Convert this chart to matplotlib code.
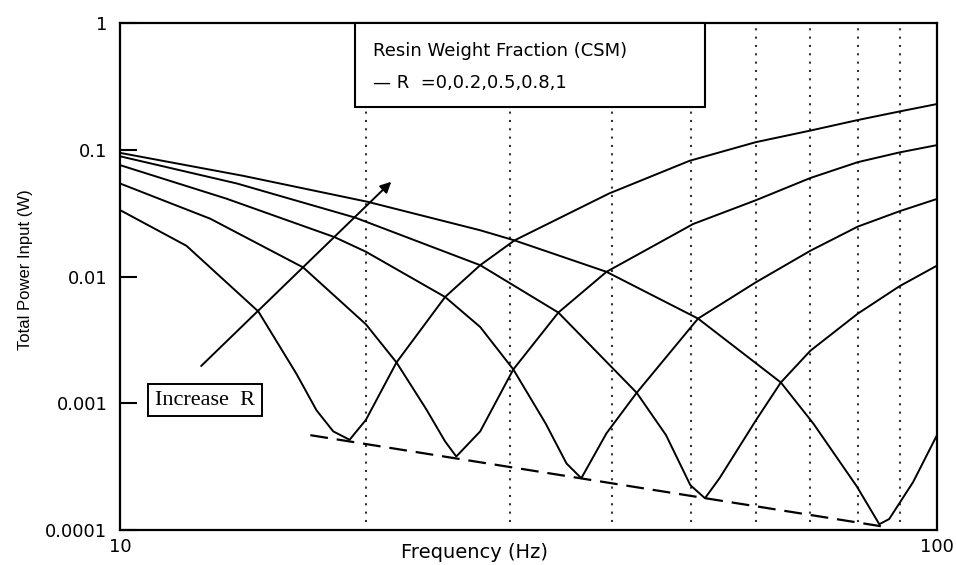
import numpy as np
import matplotlib.pyplot as plt
from matplotlib.patches import Rectangle

# values (Hz, W)
freq_r0 = [10, 12.06, 14.77, 16.45, 17.4, 18.24, 19.1, 20, 21.8, 25.0, 27.6, 30.4, 39.7, 49.8,
           60, 70, 80, 90, 100]
power_r0 = [0.0335, 0.0175, 0.0053, 0.0017, 0.00088, 0.0006, 0.000515, 0.00074, 0.0021, 0.0069,
            0.0123, 0.0193, 0.0453, 0.082, 0.115, 0.142, 0.172, 0.201, 0.23]

freq_r02 = [10, 12.9, 16.76, 20, 21.8, 23.7, 25.0, 25.8, 27.6, 30.3, 34.4, 39.4, 50.3, 60, 70,
            80, 90, 100]
power_r02 = [0.0543, 0.0286, 0.0118, 0.0042, 0.0021, 0.0009, 0.0005, 0.00038, 0.0006, 0.00185,
             0.0052, 0.0109, 0.026, 0.040, 0.060, 0.080, 0.0955, 0.109]

freq_r05 = [10, 13.5, 18.3, 20, 25.0, 27.6, 30.3, 33.2, 35.2, 36.7, 39.4, 42.9, 51, 60, 70, 80,
            90, 100]
power_r05 = [0.0758, 0.0412, 0.0205, 0.0157, 0.0069, 0.004, 0.00185, 0.00069, 0.000335,
             0.000256, 0.00058, 0.00121, 0.00466, 0.009, 0.016, 0.0248, 0.0328, 0.041]

freq_r08 = [10, 13.9, 19.4, 27.6, 34.4, 42.9, 46.6, 49.9, 52, 54.2, 60, 64.4, 70, 80, 90, 100]
power_r08 = [0.089, 0.0543, 0.0292, 0.0123, 0.0052, 0.00121, 0.00056, 0.000226, 0.000178,
             0.000257, 0.00073, 0.00146, 0.0026, 0.0051, 0.0084, 0.0122]

freq_r1 = [10, 14.15, 20.1, 27.6, 30.4, 39.4, 51, 64.4, 70.6, 79.8, 85, 87.4, 93.5, 100]
power_r1 = [0.0947, 0.0624, 0.0389, 0.0232, 0.0193, 0.0109, 0.00466, 0.00146, 0.00069, 0.00022,
            0.000111, 0.000122, 0.000239, 0.00056]

min_freq = [17.1, 87.0]
min_power = [5.6e-4, 1.05e-4]

grid_freqs = [20, 30, 40, 50, 60, 70, 80, 90]
ytick_vals = [0.0001, 0.001, 0.01, 0.1, 1]
ytick_text = ['0.0001', '0.001', '0.01', '0.1', '1']

#%%
fig = plt.figure(figsize=(9.56, 5.65), dpi=100)
ax = fig.add_axes([0.1255, 0.062, 0.8546, 0.897])
ax.set_xscale('log')
ax.set_yscale('log')
ax.set_xlim(10, 100)
ax.set_ylim(1e-4, 1)

for f in grid_freqs:
    ax.axvline(f, ymin=0.015, ymax=1, color='#333333', lw=1.5, ls=(0, (1, 3)), zorder=1)

for fr, pw in [(freq_r0, power_r0), (freq_r02, power_r02), (freq_r05, power_r05),
               (freq_r08, power_r08), (freq_r1, power_r1)]:
    ax.plot(fr, pw, color='black', lw=1.4, zorder=2)

ax.plot(min_freq, min_power, color='black', lw=1.6, ls=(0, (8, 4)), zorder=2)

# ticks
ax.set_xticks([10, 100])
ax.set_xticklabels(['10', '100'])
ax.xaxis.set_minor_locator(plt.NullLocator())
ax.yaxis.set_minor_locator(plt.NullLocator())
ax.set_yticks(ytick_vals)
ax.set_yticklabels(ytick_text)
ax.tick_params(axis='x', length=0, pad=6, labelsize=13)
ax.tick_params(axis='y', direction='in', length=12, width=1.5, pad=9, labelsize=13)
for s in ax.spines.values():
    s.set_linewidth(1.6)

ax.text(0.4345, -0.045, 'Frequency (Hz)', transform=ax.transAxes, ha='center', va='center',
        fontsize=14)
ax.text(-0.116, 0.513, 'Total Power Input (W)', transform=ax.transAxes, ha='center', va='center',
        rotation=90, fontsize=12, family='Liberation Sans')

# legend box
ax.add_patch(Rectangle((0.288, 0.834), 0.428, 0.166, transform=ax.transAxes, fc='white',
                       ec='black', lw=1.5, zorder=4, clip_on=False))
ax.text(0.31, 0.945, 'Resin Weight Fraction (CSM)', transform=ax.transAxes, va='center',
        fontsize=13, zorder=5)
ax.text(0.31, 0.882, '\u2014 R  =0,0.2,0.5,0.8,1', transform=ax.transAxes, va='center',
        fontsize=13, zorder=5)

ax.text(0.104, 0.256, 'Increase  R', transform=ax.transAxes, ha='center', va='center',
        family='Liberation Serif', fontsize=16, zorder=5,
        bbox=dict(boxstyle='square,pad=0.3', fc='white', ec='black', lw=1.4))
ax.annotate('', xy=(21.6, 0.058), xytext=(12.5, 0.0019),
            arrowprops=dict(arrowstyle='-|>', color='black', lw=1.4, mutation_scale=16))

plt.savefig('out.png', dpi=100)
